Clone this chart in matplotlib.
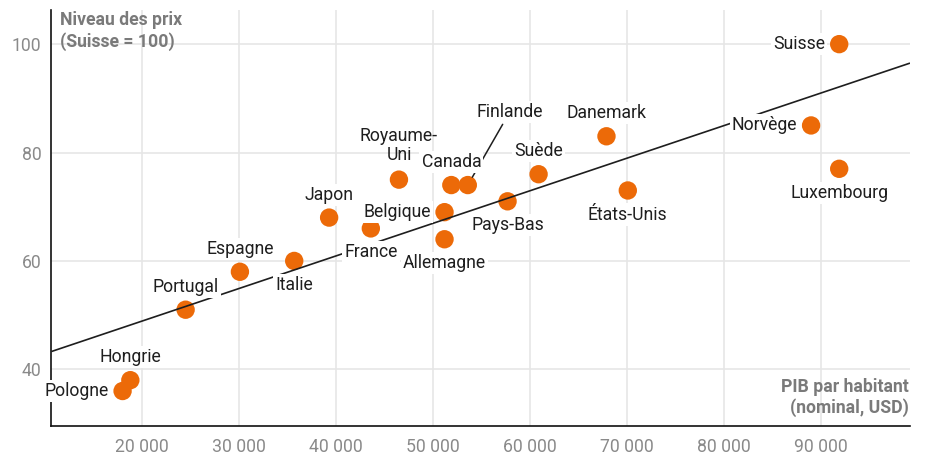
import numpy as np
import matplotlib
matplotlib.use("Agg")
import matplotlib.pyplot as plt

plt.rcParams['font.family'] = ['Roboto', 'DejaVu Sans']

countries = ["Suisse", "Norvège", "Luxembourg", "Danemark", "États-Unis", "Suède",
             "Pays-Bas", "Finlande", "Canada", "Belgique", "France", "Allemagne",
             "Royaume-\nUni", "Japon", "Espagne", "Italie", "Portugal", "Hongrie", "Pologne"]
gdp = [91900, 89000, 91900, 67900, 70100, 60900,
       57700, 53600, 51900, 51200, 43600, 51200,
       46500, 39300, 30100, 35700, 24500, 18800, 18000]
price = [100, 85, 77, 83, 73, 76,
         71, 74, 74, 69, 66, 64,
         75, 68, 58, 60, 51, 38, 36]
# label placement: 'l' left of point, 'a' above, 'b' below, 'f' leader
placement = ['l', 'l', 'b', 'a', 'b', 'a',
             'b', 'f', 'a', 'l', 'b', 'b',
             'a2', 'a', 'a', 'b', 'a', 'a', 'l']
xticks = [20000, 30000, 40000, 50000, 60000, 70000, 80000, 90000]
yticks = [40, 60, 80, 100]

ORANGE = '#EC6A08'
TXT = '#1e1e1e'
GREY = '#7a7a7a'
FS = 12.7

fig = plt.figure(figsize=(9.29, 4.55), dpi=100)
ax = fig.add_axes([51.3/929, 1-425.7/455, (910-51.3)/929, (425.7-10)/455])

xlim = (10650, 99200)
ylim = (29.6, 106.3)
ax.set_xlim(*xlim)
ax.set_ylim(*ylim)

ax.set_xticks(xticks)
ax.set_xticklabels([f"{v:,}".replace(",", " ") for v in xticks])
ax.set_yticks(yticks)
ax.tick_params(length=0, labelsize=FS, labelcolor='#8a8a8a')
ax.tick_params(axis='x', pad=9)
ax.tick_params(axis='y', pad=7)
ax.grid(True, color='#e6e6e6', lw=1.2, zorder=0)
ax.set_axisbelow(True)
for s in ['top', 'right']:
    ax.spines[s].set_visible(False)
for s in ['left', 'bottom']:
    ax.spines[s].set_color('#111111')
    ax.spines[s].set_linewidth(1.2)

# points
ax.scatter(gdp, price, s=175, color=ORANGE, edgecolors='none', zorder=3)

# trend line
coef = np.polyfit(gdp, price, 1)
xs = np.array(xlim)
ax.plot(xs, np.polyval(coef, xs), color=TXT, lw=1.2, zorder=4, solid_capstyle='butt')

bbox = dict(boxstyle='square,pad=0.12', fc='white', ec='none')
for name, x, y, p in zip(countries, gdp, price, placement):
    kw = dict(textcoords='offset points', fontsize=FS, color=TXT, zorder=6, bbox=bbox,
              annotation_clip=False)
    if p == 'l':
        ax.annotate(name, (x, y), xytext=(-10, 0), ha='right', va='center', **kw)
    elif p == 'a':
        ax.annotate(name, (x, y), xytext=(0, 16.5), ha='center', va='center', **kw)
    elif p == 'a2':
        kw['bbox'] = None
        kw['zorder'] = 5
        ax.annotate(name, (x, y), xytext=(0, 24.5), ha='center', va='center',
                    multialignment='center', linespacing=1.1, **kw)
    elif p == 'b':
        ax.annotate(name, (x, y), xytext=(0, -17.3), ha='center', va='center', **kw)
    elif p == 'f':
        kw['zorder'] = 5
        ax.annotate(name, (x, y), xytext=(30.2, 52.6), ha='center', va='center',
                    arrowprops=dict(arrowstyle='-', color=TXT, lw=1.1,
                                    shrinkA=1, shrinkB=6.5), **kw)

ax.text(0.0101, 0.997, "Niveau des prix\n(Suisse = 100)", transform=ax.transAxes,
        ha='left', va='top', fontsize=FS, fontweight='bold', color=GREY, linespacing=1.2,
        zorder=2)
ax.text(0.9985, 0.02, "PIB par habitant\n(nominal, USD)", transform=ax.transAxes,
        ha='right', va='bottom', fontsize=FS, fontweight='bold', color=GREY,
        multialignment='right', linespacing=1.2, zorder=2)

fig.savefig("out.png", dpi=100)
